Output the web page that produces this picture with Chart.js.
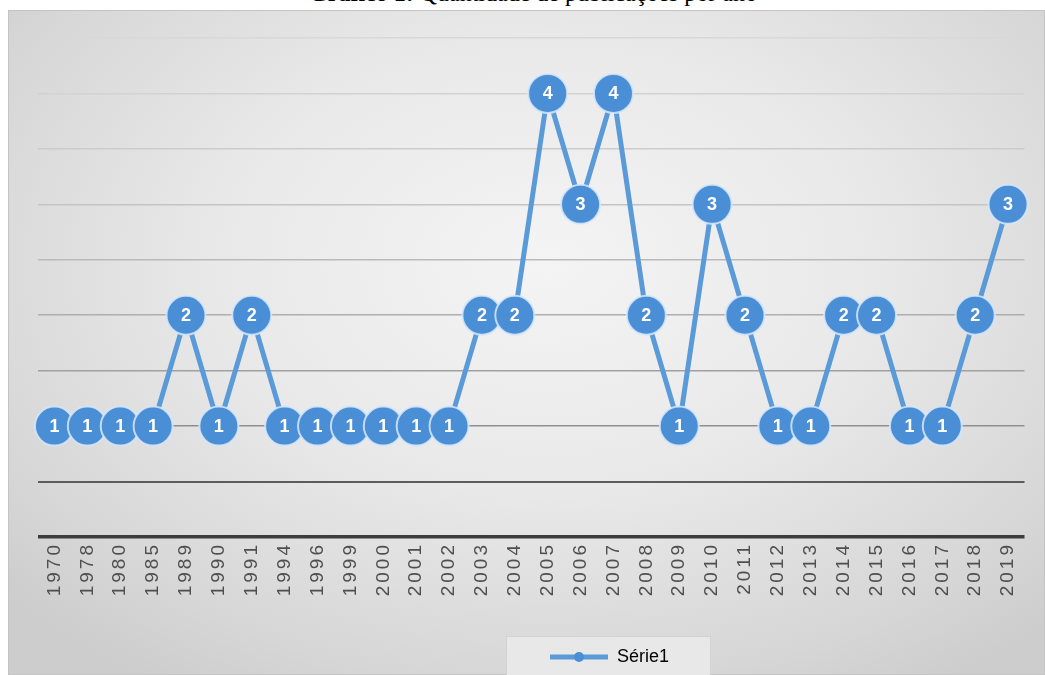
<!DOCTYPE html>
<html>
<head>
<meta charset="utf-8">
<script src="https://cdn.jsdelivr.net/npm/chart.js@4.4.1/dist/chart.umd.min.js"></script>
<style>
  html, body { margin: 0; padding: 0; background: #ffffff; width: 1045px; height: 675px; overflow: hidden; }
  #title { position: absolute; left: 0; width: 1066px; top: -19px; text-align: center;
    font-family: "Liberation Serif", "Times New Roman", serif; font-size: 24px; line-height: 24px; color: #000; white-space: nowrap; }
  #frame { position: absolute; left: 8px; top: 10px; width: 1037px; height: 665px;
    background: radial-gradient(ellipse 70% 75% at 52% 38%, #f4f4f4 0%, #e9e9e9 45%, #d6d6d6 85%, #cdcdcd 100%);
    box-sizing: border-box; border: 1px solid #c4c4c4; }
  #c { position: absolute; left: 0; top: 0; }
</style>
</head>
<body>
<div id="title"><b>Gráfico 1:</b> Quantidade de publicações por ano</div>
<div id="frame"><canvas id="c" width="1037" height="665"></canvas></div>
<script>
const categories = ["1970","1978","1980","1985","1989","1990","1991","1994","1996","1999","2000","2001","2002","2003","2004","2005","2006","2007","2008","2009","2010","2011","2012","2013","2014","2015","2016","2017","2018","2019"];
const serie1 = [1,1,1,1,2,1,2,1,1,1,1,1,1,2,2,4,3,4,2,1,3,2,1,1,2,2,1,1,2,3];
const seriesName = "Série1";
const yMin = 0, yMax = 4.5, yStep = 0.5;

const BLUE = "#4a8ed5";
const LINE = "#5a9ad8";

// legend symbol: line with a circle
const sym = document.createElement("canvas");
sym.width = 58; sym.height = 14;
(function(){
  const g = sym.getContext("2d");
  g.strokeStyle = LINE; g.lineWidth = 5;
  g.beginPath(); g.moveTo(0,7); g.lineTo(58,7); g.stroke();
  g.fillStyle = BLUE; g.beginPath(); g.arc(29,7,5,0,Math.PI*2); g.fill();
})();

const gridColors = ["#3c3c3c","#5c5c5c","#8f8f8f","#a0a0a0","#aeaeae","#bababa","#c4c4c4","#cccccc","#d2d2d2","#d8d8d8"];

const labelPlugin = {
  id: "valueLabels",
  afterDatasetsDraw(chart) {
    const ctx = chart.ctx;
    const meta = chart.getDatasetMeta(0);
    const data = chart.data.datasets[0].data;
    ctx.save();
    ctx.fillStyle = "#ffffff";
    ctx.font = "bold 18px 'Liberation Sans', Arial, sans-serif";
    ctx.textAlign = "center";
    ctx.textBaseline = "middle";
    meta.data.forEach((pt, i) => { ctx.fillText(String(data[i]), pt.x, pt.y + 1); });
    ctx.restore();
  }
};

// widen the x tick labels (their layer is drawn after the datasets, ticks.z = 1)
const spacingPlugin = {
  id: "tickSpacing",
  afterDatasetsDraw(chart) { chart.ctx.letterSpacing = "3px"; },
  afterDraw(chart) { chart.ctx.letterSpacing = "0px"; }
};

const legendBox = {
  id: "legendBox",
  afterLayout(chart) {
    const lg = chart.legend;
    if (lg) { lg.left += 76; lg.right += 76; }
  },
  beforeDraw(chart) {
    const lg = chart.legend;
    if (!lg || !lg.legendHitBoxes || !lg.legendHitBoxes.length) return;
    const hb = lg.legendHitBoxes[0];
    const ctx = chart.ctx;
    ctx.save();
    const x0 = hb.left - 44, x1 = hb.left + hb.width + 42;
    const y0 = hb.top - 12, y1 = chart.height;
    ctx.fillStyle = "#e8e8e8";
    ctx.fillRect(x0, y0, x1 - x0, y1 - y0);
    ctx.strokeStyle = "#d2d2d2"; ctx.lineWidth = 1;
    ctx.strokeRect(x0 + 0.5, y0 + 0.5, x1 - x0 - 1, y1 - y0);
    ctx.restore();
  }
};

new Chart(document.getElementById("c"), {
  type: "line",
  data: {
    labels: categories,
    datasets: [{
      label: seriesName,
      data: serie1,
      borderColor: LINE,
      borderWidth: 5,
      backgroundColor: BLUE,
      pointStyle: "circle",
      pointBackgroundColor: BLUE,
      pointBorderColor: "rgba(215,232,250,0.85)",
      pointBorderWidth: 2,
      pointRadius: 19.5,
      pointHoverRadius: 19.5,
      tension: 0,
      clip: false
    }]
  },
  options: {
    responsive: false,
    animation: false,
    events: [],
    layout: { padding: { left: 29, right: 17, top: 27, bottom: 0 } },
    scales: {
      x: {
        offset: true,
        grid: { display: false, drawTicks: false, z: 1 },
        border: { display: false, z: 1 },
        ticks: {
          z: 1,
          autoSkip: false, maxRotation: 90, minRotation: 90,
          color: "#4f4f4f", padding: 5,
          font: { family: "'Liberation Sans', Arial, sans-serif", size: 19 }
        },
        afterFit(s) { s.height = 101; }
      },
      y: {
        display: true,
        min: yMin, max: yMax,
        ticks: { display: false, stepSize: yStep },
        border: { display: false },
        grid: {
          drawTicks: false,
          color: (c) => gridColors[Math.round(c.tick.value / yStep)] || "#d8d8d8",
          lineWidth: (c) => c.tick.value === 0 ? 3.5 : (c.tick.value === 0.5 ? 2 : 1.5)
        },
        afterFit(s) { s.width = 0; }
      }
    },
    plugins: {
      legend: {
        position: "bottom",
        labels: {
          usePointStyle: true,
          pointStyleWidth: 58,
          color: "#595959",
          padding: 10,
          font: { family: "'Liberation Sans', Arial, sans-serif", size: 18 },
          generateLabels(chart) {
            return [{ text: seriesName, pointStyle: sym, fillStyle: BLUE, strokeStyle: LINE, lineWidth: 0, datasetIndex: 0, hidden: false }];
          }
        }
      },
      tooltip: { enabled: false }
    }
  },
  plugins: [legendBox, labelPlugin, spacingPlugin]
});
</script>
</body>
</html>
